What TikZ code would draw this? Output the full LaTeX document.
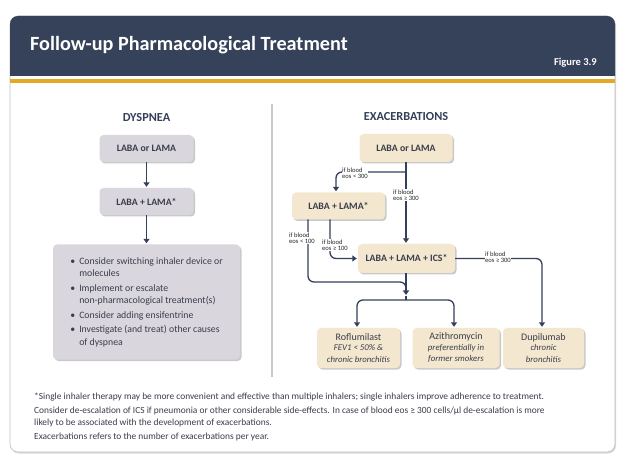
\documentclass[tikz,border=0pt]{standalone}
\usepackage{fontspec}
\setmainfont{Carlito}
\usetikzlibrary{shadows,arrows.meta}
\definecolor{hdr}{HTML}{36415A}
\definecolor{gold}{HTML}{E5A823}
\definecolor{graybox}{HTML}{D9D6DE}
\definecolor{beige}{HTML}{F4E7CF}
\definecolor{ink}{HTML}{34405A}
\definecolor{txt}{HTML}{3A3D4C}
\definecolor{divider}{HTML}{C8C8CC}
\newcommand{\subit}{\itshape\fontsize{8.8}{10.5}\selectfont}
\begin{document}
\begin{tikzpicture}[x=1pt,y=-1pt,
  shad/.style={drop shadow={opacity=0.35,shadow xshift=1.5pt,shadow yshift=-1.5pt,fill=black!60}},
  boxbase/.style={rounded corners=4pt, shad, text=txt, inner sep=2pt, align=center},
  gbox/.style={boxbase, fill=graybox, font=\bfseries\fontsize{9.8}{11}\selectfont},
  bbox/.style={boxbase, fill=beige, font=\bfseries\fontsize{9.8}{11}\selectfont},
  tbox/.style={boxbase, fill=beige, font=\fontsize{10}{11.5}\selectfont, minimum width=83pt, minimum height=40pt},
  conn/.style={draw=ink, line width=1.3pt, rounded corners=6pt, -{Triangle[length=4.5pt,width=6pt]}, shorten >=1pt},
  plain/.style={draw=ink, line width=1.3pt, rounded corners=6pt},
  lbl/.style={fill=white, inner sep=0.6pt, font=\fontsize{6.6}{6}\selectfont, align=left, text=black!85},
  heading/.style={font=\bfseries\fontsize{12.3}{14}\selectfont, text=ink},
  foot/.style={anchor=west, font=\fontsize{9.4}{11}\selectfont, text=txt, inner sep=0pt}
]
\useasboundingbox (0,0) rectangle (627,473);
\fill[white] (0,0) rectangle (627,473);
% card
\fill[white, rounded corners=8pt, drop shadow={opacity=0.3,shadow xshift=1pt,shadow yshift=-1.5pt}] (10,16) rectangle (615,452);
\draw[black!25, rounded corners=8pt, line width=0.6pt] (10,16) rectangle (615,452);
\fill[hdr] (10,76) {[rounded corners=8pt] -- (10,16) -- (615,16)} -- (615,76) -- cycle;
\fill[gold] (10,79.5) rectangle (615,83.5);
\node[anchor=west, text=white, font=\bfseries\fontsize{20.2}{22}\selectfont, inner sep=0pt] (title) at (30,45.5) {Follow-up Pharmacological Treatment};
\node[anchor=east, text=white, font=\bfseries\fontsize{10.5}{12}\selectfont, inner sep=0pt] (fig) at (597,63) {Figure 3.9};
% divider
\draw[divider, line width=1.2pt] (272,104) -- (272,377);
% dyspnea
\node[heading] (dh) at (146.5,118) {DYSPNEA};
\node[gbox, minimum width=94pt, minimum height=27pt] (d1) at (146.5,148.5) {LABA or LAMA};
\node[gbox, minimum width=94pt, minimum height=27pt] (d2) at (146.5,201.5) {LABA + LAMA*};
\node[boxbase, fill=graybox, minimum width=187pt, minimum height=115pt, font=\fontsize{9.8}{12.5}\selectfont, align=left] (d3) at (146.5,302) {%
\makebox[9pt][l]{\textbullet}Consider switching inhaler device or\\
\hspace*{9pt}molecules\\[2pt]
\makebox[9pt][l]{\textbullet}Implement or escalate\\
\hspace*{9pt}non-pharmacological treatment(s)\\[2pt]
\makebox[9pt][l]{\textbullet}Consider adding ensifentrine\\[2pt]
\makebox[9pt][l]{\textbullet}Investigate (and treat) other causes\\
\hspace*{9pt}of dyspnea};
\draw[conn] (d1) -- (d2);
\draw[conn] (d2) -- (d3);
% exacerbations
\node[heading] (eh) at (406,117) {EXACERBATIONS};
\node[bbox, minimum width=93pt, minimum height=28pt] (e1) at (406,148) {LABA or LAMA};
\node[bbox, minimum width=93pt, minimum height=27pt] (e2) at (338.5,206) {LABA + LAMA*};
\node[bbox, minimum width=97pt, minimum height=29pt] (e3) at (406.5,258.5) {LABA + LAMA + ICS*};
\node[tbox] (rof) at (358.5,348) {Roflumilast\\[-1pt]\subit FEV1 < 50\% \&\\\subit chronic bronchitis};
\node[tbox, minimum width=87pt] (azi) at (456,348) {Azithromycin\\[-1pt]\subit preferentially in\\\subit former smokers};
\node[tbox, minimum width=81pt] (dup) at (543.5,348) {Dupilumab\\[-1pt]\subit chronic\\\subit bronchitis};
% connectors
\coordinate (b1) at (406,172);
\coordinate (e2a) at (308,219.5);
\coordinate (e2b) at (330,219.5);
\coordinate (j) at (406,296);
\coordinate (j2) at (406,300);
\draw[conn] (e1.south -| b1) -- (e3.north -| b1);
\draw[conn] (b1) -| (e2.north -| 336,0);
\draw[plain] (e2a) |- (406,282) -- (406,292);
\draw[conn] (e2b) |- (e3.west);
\draw[conn] (e3.south -| j) -- (j);
\draw[plain] (j) -- (j2);
\draw[conn] (j2) -| (rof.north -| 357,0);
\draw[conn] (j2) -| (azi.north -| 454,0);
\draw[conn] (e3.east) -| (dup.north -| 542,0);
% labels
\node[lbl] (l1) at (355,173) {if blood\\eos < 300};
\node[lbl] (l2) at (406,195) {if blood\\eos ≥ 300};
\node[lbl] (l3) at (302,238) {if blood\\eos < 100};
\node[lbl] (l4) at (335,245) {if blood\\eos ≥ 100};
\node[lbl] (l5) at (498,257.5) {if blood\\eos ≥ 300};
% footnotes
\node[foot] (f1) at (34,397) {*Single inhaler therapy may be more convenient and effective than multiple inhalers; single inhalers improve adherence to treatment.};
\node[foot] (f2) at (34,411) {Consider de-escalation of ICS if pneumonia or other considerable side-effects. In case of blood eos ≥ 300 cells/µl de-escalation is more};
\node[foot] (f3) at (34,422.5) {likely to be associated with the development of exacerbations.};
\node[foot] (f4) at (34,436.5) {Exacerbations refers to the number of exacerbations per year.};
\end{tikzpicture}
\end{document}
